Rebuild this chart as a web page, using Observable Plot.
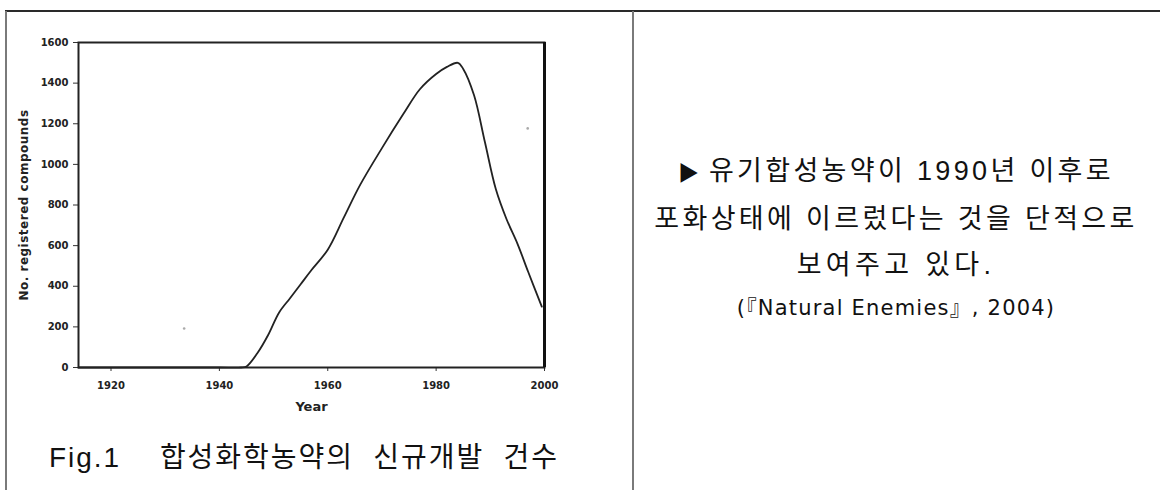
<!DOCTYPE html>
<html>
<head>
<meta charset="utf-8">
<script src="https://cdn.jsdelivr.net/npm/d3@7"></script>
<script src="https://cdn.jsdelivr.net/npm/@observablehq/plot@0.6"></script>
<style>
  html, body { margin: 0; padding: 0; background: #fff; }
  #page { position: relative; width: 1160px; height: 490px; overflow: hidden; background: #fff; }
  .hline { position: absolute; left: 5px; top: 10px; width: 1155px; height: 2px; background: #2a2a2a; }
  .vline { position: absolute; top: 11px; width: 2px; height: 479px; background: #7a7a7a; }
  #chart { position: absolute; left: 0; top: 0; }
  #caption { position: absolute; left: 0; width: 608px; top: 438px; text-align: center;
    font-family: "Liberation Sans", "Noto Sans CJK KR", sans-serif; font-size: 28px; color: #111; white-space: pre; line-height: 40px; }
  #note { position: absolute; left: 636px; width: 520px; top: 148px; text-align: center;
    font-family: "Liberation Sans", "Noto Sans CJK KR", sans-serif; color: #111; }
  #note .l { font-size: 27px; line-height: 46px; white-space: pre; }
  #note .src { font-family: "DejaVu Sans", "Noto Sans CJK KR", sans-serif; font-size: 21px; line-height: 40px; white-space: pre; }
</style>
</head>
<body>
<div id="page">
  <div class="hline"></div>
  <div class="vline" style="left:5px"></div>
  <div class="vline" style="left:632px"></div>
  <div id="chart"></div>
  <div id="caption"></div>
  <div id="note"></div>
</div>
<script>
// Data
const years = [1914, 1920, 1930, 1940, 1944, 1945, 1947, 1949, 1951, 1953, 1955, 1957, 1960, 1963, 1966, 1970, 1974, 1977, 1980, 1982, 1984, 1985, 1987, 1989, 1991, 1993, 1995, 1997, 1999.5];
const compounds = [0, 0, 0, 0, 0, 5, 70, 160, 270, 340, 410, 480, 580, 740, 900, 1080, 1250, 1370, 1445, 1480, 1500, 1470, 1340, 1110, 880, 730, 610, 470, 300];
const xTicks = [1920, 1940, 1960, 1980, 2000];
const yTicks = [0, 200, 400, 600, 800, 1000, 1200, 1400, 1600];
const speckYears = [1933.5, 1996.9];
const speckValues = [192, 1177];

const captionText = "Fig.1    합성화학농약의  신규개발  건수";
const noteMarker = "▶";
const noteLines = ["유기합성농약이 1990년 이후로", "포화상태에 이르렀다는 것을 단적으로", "보여주고 있다."];
const noteSource = "(『Natural Enemies』, 2004)";

const series = years.map((y, i) => ({year: y, value: compounds[i]}));
const specks = speckYears.map((y, i) => ({year: y, value: speckValues[i]}));

const chart = Plot.plot({
  width: 630,
  height: 420,
  marginLeft: 78,
  marginRight: 86,
  marginTop: 42,
  marginBottom: 53,
  style: {background: "transparent", fontFamily: "DejaVu Sans, sans-serif", fontWeight: "bold", color: "#222"},
  x: {domain: [1914, 2000]},
  y: {domain: [0, 1600]},
  marks: [
    Plot.axisX({ticks: xTicks, tickFormat: d => String(d), tickSize: 4, fontSize: 10, tickPadding: 10,
      label: "Year", labelAnchor: "center", labelOffset: 43, labelArrow: "none", stroke: "#333"}),
    Plot.axisY({ticks: yTicks, tickFormat: d => String(d), tickSize: 5, fontSize: 10, tickPadding: 5,
      label: "No. registered compounds", labelAnchor: "center", labelOffset: 59, labelArrow: "none", stroke: "#333"}),
    Plot.frame({stroke: "#222", strokeWidth: 2}),
    Plot.ruleX([2000], {stroke: "#111", strokeWidth: 3}),
    Plot.dot(specks, {x: "year", y: "value", r: 1.3, fill: "#aaa", stroke: null}),
    Plot.line(series, {x: "year", y: "value", curve: "catmull-rom", stroke: "#222", strokeWidth: 1.8})
  ]
});
chart.querySelectorAll("[aria-label='x-axis label'] text").forEach(t => { t.setAttribute("font-size", "13"); });
chart.querySelectorAll("[aria-label='y-axis label'] text").forEach(t => { t.setAttribute("font-size", "12"); t.style.letterSpacing = "0.5px"; });
document.getElementById("chart").appendChild(chart);

// text blocks, widened with letter-spacing towards the reference's text widths
function fitSpan(span, target) {
  const w = span.getBoundingClientRect().width;
  const n = span.textContent.length;
  const ls = (target - w) / Math.max(1, n - 1);
  span.style.letterSpacing = ls + "px";
  return ls;
}
function lineDiv(parent, cls, text) {
  const d = document.createElement("div"); d.className = cls;
  const s = document.createElement("span"); s.textContent = text; d.appendChild(s);
  parent.appendChild(d); return s;
}
const cap = document.getElementById("caption");
const capSpan = document.createElement("span"); capSpan.textContent = captionText; cap.appendChild(capSpan);
fitSpan(capSpan, 508);

const note = document.getElementById("note");
const d1 = document.createElement("div"); d1.className = "l";
const m = document.createElement("span"); m.textContent = noteMarker + " "; m.style.fontSize = "21px"; m.style.marginRight = "4px";
const s1 = document.createElement("span"); s1.textContent = noteLines[0];
d1.appendChild(m); d1.appendChild(s1); note.appendChild(d1);
const s2 = lineDiv(note, "l", noteLines[1]);
const s3 = lineDiv(note, "l", noteLines[2]);
const s4 = lineDiv(note, "src", noteSource);
const ls = fitSpan(s2, 480);
s1.style.letterSpacing = ls + "px";
s3.style.letterSpacing = (ls + 1) + "px";
const ls4 = Math.min(1.2, fitSpan(s4, 354));
s4.style.letterSpacing = ls4 + "px";
</script>
</body>
</html>
